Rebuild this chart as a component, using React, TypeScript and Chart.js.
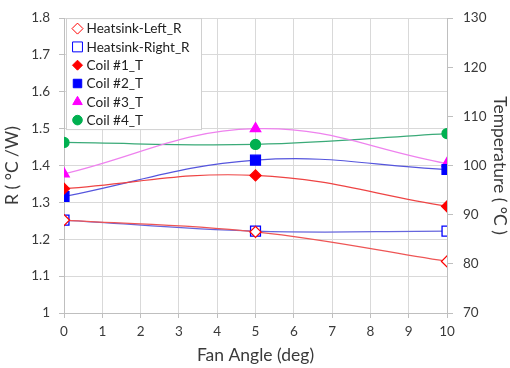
import { useEffect, useRef } from "react";
import { Chart, registerables } from "chart.js";
import { drawPoint } from "chart.js/helpers";

Chart.register(...registerables);

const fanAngles = [0, 5, 10];
const heatsinkLeftR = [1.252, 1.22, 1.14];
const heatsinkRightR = [1.252, 1.222, 1.222];
const coil1T = [95.3, 98.0, 91.7];
const coil2T = [93.7, 101.1, 99.2];
const coil3T = [98.3, 107.5, 100.4];
const coil4T = [104.7, 104.3, 106.5];

const seriesNames = [
  "Heatsink-Left_R",
  "Heatsink-Right_R",
  "Coil #1_T",
  "Coil #2_T",
  "Coil #3_T",
  "Coil #4_T",
];

const xTitle = "Fan Angle (deg)";
const yLeftTitle = "R ( °C /W)";
const yRightTitle = "Temperature ( °C )";

const FONT = "Lato, 'Open Sans', sans-serif";
const TEXT = "#3a3a3a";

const toPts = (vals: number[]) => vals.map((v, i) => ({ x: fanAngles[i], y: v }));

const legendPlugin = {
  id: "insideLegend",
  afterDatasetsDraw(chart: any) {
    const ctx = chart.ctx as CanvasRenderingContext2D;
    const area = chart.chartArea;
    const x0 = area.left + 2.5;
    const y0 = area.top + 0.5;
    const w = 135;
    const h = 111;
    ctx.save();
    ctx.fillStyle = "#ffffff";
    ctx.strokeStyle = "#d0d0d0";
    ctx.lineWidth = 1;
    ctx.fillRect(x0, y0, w, h);
    ctx.strokeRect(x0, y0, w, h);
    ctx.font = `13.6px ${FONT}`;
    ctx.textBaseline = "middle";
    ctx.textAlign = "left";
    chart.data.datasets.forEach((ds: any, i: number) => {
      const cy = y0 + 10 + i * 18.3;
      const cx = x0 + 11;
      ctx.fillStyle = ds.pointBackgroundColor;
      ctx.strokeStyle = ds.pointBorderColor;
      ctx.lineWidth = 1;
      drawPoint(ctx, {
        pointStyle: ds.pointStyle,
        radius: ds.legendRadius,
        rotation: 0,
        borderWidth: 1,
      } as any, cx, cy);
      ctx.fillStyle = "#222222";
      ctx.fillText(ds.label, x0 + 20, cy + 0.5);
    });
    ctx.restore();
  },
};

export default function App() {
  const ref = useRef<HTMLCanvasElement | null>(null);
  useEffect(() => {
    if (!ref.current) return;
    const mk = (
      i: number,
      vals: number[],
      axis: string,
      line: string,
      mcol: string,
      fill: string,
      style: string,
      r: number,
      lr: number
    ) => ({
      label: seriesNames[i],
      data: toPts(vals),
      yAxisID: axis,
      borderColor: line,
      borderWidth: 1.2,
      tension: 0.4,
      pointStyle: style,
      pointRadius: r,
      pointHoverRadius: r,
      pointBorderColor: mcol,
      pointBackgroundColor: fill,
      pointBorderWidth: 1.3,
      legendRadius: lr,
      fill: false,
    });
    const chart = new Chart(ref.current, {
      type: "line",
      data: {
        datasets: [
          mk(0, heatsinkLeftR, "y", "#ee5555", "#ff0000", "#ffffff", "rectRot", 5.5, 5.5),
          mk(1, heatsinkRightR, "y", "#6666dd", "#0000ff", "#ffffff", "rect", 7, 7),
          mk(2, coil1T, "y2", "#ee4444", "#ff0000", "#ff0000", "rectRot", 5.5, 5),
          mk(3, coil2T, "y2", "#5555dd", "#0000ff", "#0000ff", "rect", 7, 6),
          mk(4, coil3T, "y2", "#ee82ee", "#ff00ff", "#ff00ff", "triangle", 6, 5.5),
          mk(5, coil4T, "y2", "#3aaa78", "#00b050", "#00b050", "circle", 5, 4.8),
        ] as any,
      },
      options: {
        animation: false,
        responsive: true,
        maintainAspectRatio: false,
        layout: { padding: { top: 15, left: 0, right: 0, bottom: 0 } },
        plugins: { legend: { display: false }, tooltip: { enabled: false } },
        scales: {
          x: {
            type: "linear",
            min: 0,
            max: 10,
            afterFit: (s: any) => {
              s.height = 55;
            },
            ticks: { stepSize: 1, color: TEXT, font: { family: FONT, size: 13.5 }, padding: 6 },
            grid: { color: "#d9d9d9", tickColor: "#bfbfbf", tickLength: 5 },
            border: { color: "#bfbfbf" },
            title: {
              display: true,
              text: xTitle,
              color: TEXT,
              font: { family: FONT, size: 17.5 },
              padding: { top: 0, bottom: 2 },
            },
          },
          y: {
            type: "linear",
            position: "left",
            min: 1,
            max: 1.8,
            afterFit: (s: any) => {
              s.width = 64;
            },
            ticks: {
              stepSize: 0.1,
              color: TEXT,
              font: { family: FONT, size: 13.5 },
              padding: 9,
              callback: (v: any) => String(Math.round(Number(v) * 10) / 10),
            },
            grid: { color: "#d9d9d9", tickColor: "#bfbfbf", tickLength: 5 },
            border: { color: "#bfbfbf" },
            title: {
              display: true,
              text: yLeftTitle,
              color: TEXT,
              font: { family: FONT, size: 17.5 },
              padding: { top: 2, bottom: 0 },
            },
          },
          y2: {
            type: "linear",
            position: "right",
            min: 70,
            max: 130,
            afterFit: (s: any) => {
              s.width = 63;
            },
            ticks: { stepSize: 10, color: TEXT, font: { family: FONT, size: 13.5 }, padding: 10 },
            grid: { drawOnChartArea: false, tickColor: "#bfbfbf", tickLength: 6 },
            border: { color: "#bfbfbf" },
            title: {
              display: true,
              text: yRightTitle,
              color: TEXT,
              font: { family: FONT, size: 17.5 },
              padding: { top: 0, bottom: 0 },
            },
          },
        },
      } as any,
      plugins: [legendPlugin],
    });
    return () => chart.destroy();
  }, []);
  return (
    <div style={{ position: "fixed", left: 0, top: 0, width: 510, height: 368, background: "#fff" }}>
      <canvas ref={ref} />
    </div>
  );
}
